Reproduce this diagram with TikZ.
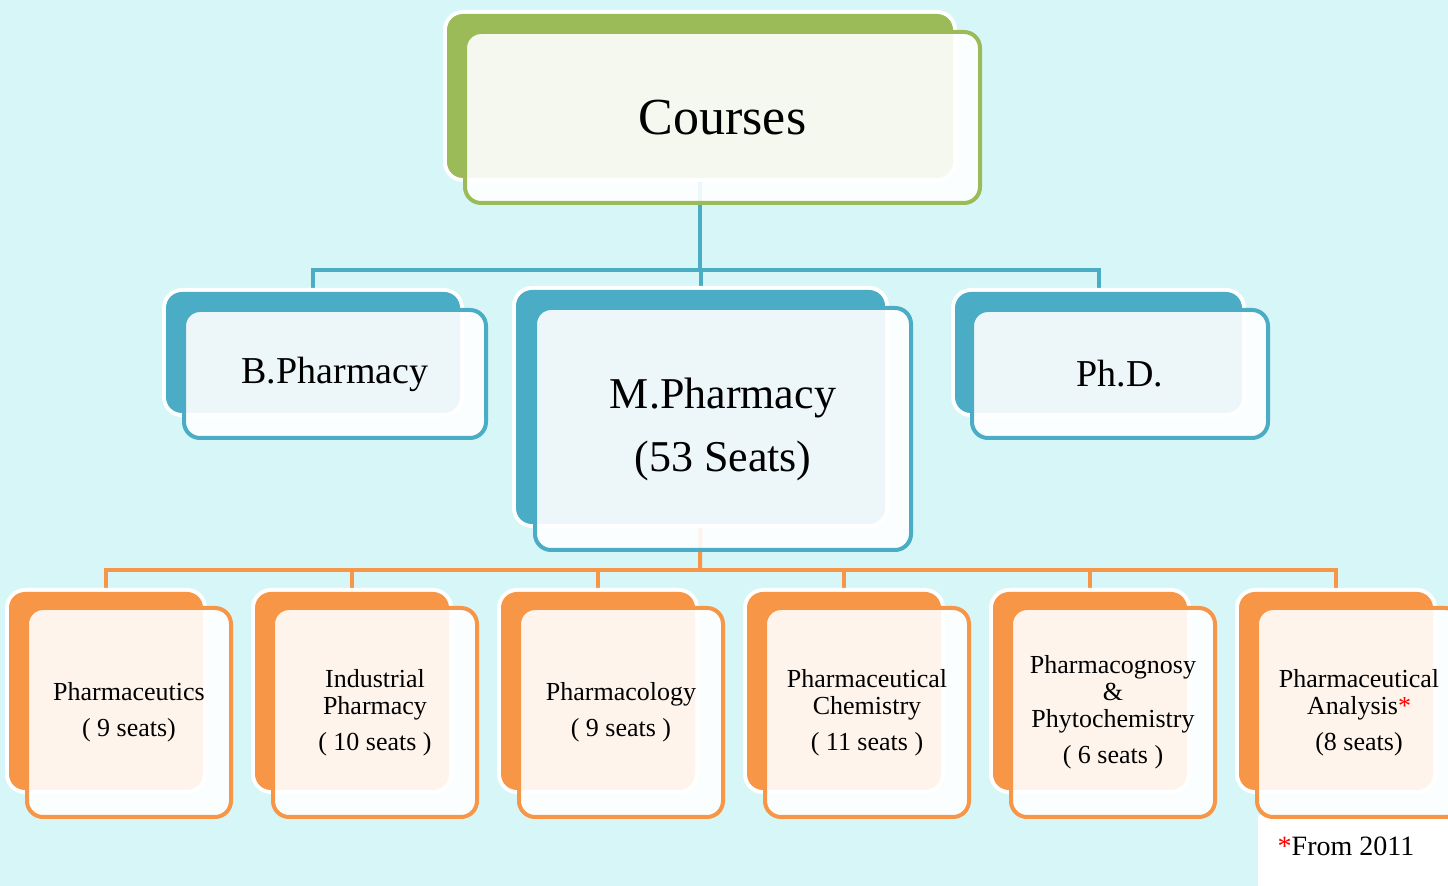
\documentclass[tikz,border=0pt]{standalone}
\usepackage{fontspec}
\setmainfont{Liberation Serif}

\definecolor{ogreen}{HTML}{9BBB59}
\definecolor{oblue}{HTML}{4BACC6}
\definecolor{oorange}{HTML}{F79646}
\definecolor{bgcyan}{RGB}{214,246,247}

\pgfdeclarelayer{bg}
\pgfdeclarelayer{links}
\pgfsetlayers{bg,links,main}

\tikzset{
	backbox/.style={rounded corners=8pt, fill=#1, preaction={draw=white, line width=4pt}},
	frontbox/.style={rounded corners=8pt, draw=#1, line width=2pt, fill=white, fill opacity=0.9, draw opacity=1, text opacity=1, align=center},
	link/.style={draw=#1, line width=2pt},
}

\begin{document}
\begin{tikzpicture}[x=0.5pt,y=-0.5pt]
				\begin{pgfonlayer}{bg}
					\fill[bgcyan] (0,0) rectangle (1448,886);
					\fill[white] (1258,815) rectangle (1448,886);
				\end{pgfonlayer}
				\useasboundingbox (0,0) rectangle (1448,886);

				% top
				\node[backbox=ogreen, minimum width=253pt, minimum height=82pt] (coursesB) at (700,96) {};
				\node[frontbox=ogreen, minimum width=257.5pt, minimum height=85.5pt, font=\fontsize{26}{30}\selectfont] (courses) at (722.5,117.5) {Courses};

				% degrees
				\node[backbox=oblue, minimum width=147pt, minimum height=60.5pt] (bphB) at (313,352.5) {};
				\node[frontbox=oblue, minimum width=151pt, minimum height=64pt, font=\fontsize{19}{22}\selectfont] (bph) at (335,374) {B.Pharmacy};

				\node[backbox=oblue, minimum width=184.5pt, minimum height=117pt] (mphB) at (700.5,407) {};
				\node[frontbox=oblue, minimum width=188pt, minimum height=121pt, font=\fontsize{22}{31.5}\selectfont] (mph) at (723,429) {M.Pharmacy\\(53 Seats)};

				\node[backbox=oblue, minimum width=143.5pt, minimum height=60.5pt] (phdB) at (1098.5,352.5) {};
				\node[frontbox=oblue, minimum width=148pt, minimum height=64pt, font=\fontsize{19}{22}\selectfont] (phd) at (1120,374) {Ph.D.};

				% specialisations
				\foreach \i/\txt in {0/{Pharmaceutics\\[4.5pt]( 9 seats)}, 1/{Industrial\\Pharmacy\\[4.5pt]( 10 seats )}, 2/{Pharmacology\\[4.5pt]( 9 seats )}, 3/{Pharmaceutical\\Chemistry\\[4.5pt]( 11 seats )}, 4/{Pharmacognosy\\\&\\Phytochemistry\\[4.5pt]( 6 seats )}, 5/{Pharmaceutical\\Analysis\textcolor{red}{*}\\[4.5pt](8 seats)}}{
					\node[backbox=oorange, minimum width=97pt, minimum height=99pt] (specB\i) at ({106+246*\i},691) {};
					\node[frontbox=oorange, minimum width=102pt, minimum height=104.5pt, font=\fontsize{13}{13.5}\selectfont] (spec\i) at ({129+246*\i},712.5) {\txt};
				}

				\node[font=\fontsize{14}{16}\selectfont] (note) at (1346,846) {\textcolor{red}{*}From 2011};

				% connectors
				\begin{pgfonlayer}{links}
					\coordinate (bus1) at (700,270);
					\draw[link=oblue] (coursesB.south) -- (bus1);
					\draw[link=oblue] (bus1) -| (bphB.north);
					\draw[link=oblue] (bus1) -| (mphB.north);
					\draw[link=oblue] (bus1) -| (phdB.north);
					\coordinate (bus2) at (700,570);
					\draw[link=oorange] (mphB.south) -- (bus2);
					\foreach \i in {0,...,5}{
						\draw[link=oorange] (bus2) -| (specB\i.north);
					}
				\end{pgfonlayer}
			\end{tikzpicture}
\end{document}
